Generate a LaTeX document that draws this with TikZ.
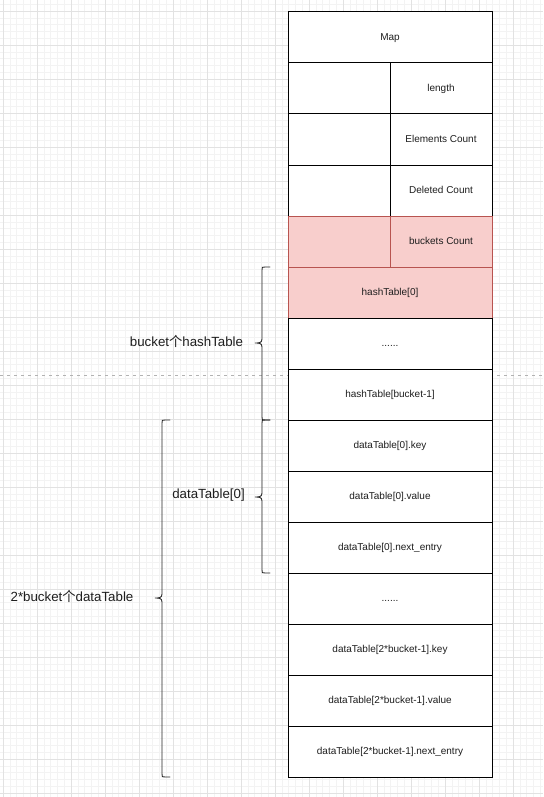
\documentclass[tikz,border=0pt]{standalone}
\usepackage{fontspec}
\setmainfont{Liberation Sans}
\newfontfamily\cjk{Noto Sans CJK SC}
\definecolor{gridminor}{RGB}{243,243,243}
\definecolor{gridmajor}{RGB}{226,226,226}
\definecolor{pinkfill}{HTML}{F8CECC}
\definecolor{pinkdraw}{HTML}{B85450}
\definecolor{txt}{RGB}{30,30,30}
\newcommand\curlyb[6]{%
  \draw[bracestyle] (#1,#4) -- ({#2+3},#4) .. controls (#2,#4) .. (#2,{#4+3})
    -- (#2,{#6-4}) .. controls (#2,#6) and ({#2-3},#6) .. (#3,#6)
    .. controls ({#2-3},#6) and (#2,#6) .. (#2,{#6+4})
    -- (#2,{#5-3}) .. controls (#2,#5) .. ({#2+3},#5) -- (#1,#5);}
\begin{document}
\begin{tikzpicture}[x=1pt,y=-1pt,
  cell/.style={draw=black, fill=white, line width=1pt, minimum width=204pt,
    minimum height=51pt, inner sep=0pt, outer sep=0pt, anchor=north west,
    font=\fontsize{10}{12}\selectfont, text=txt, text height=7.5pt, text depth=1.5pt},
  half/.style={cell, minimum width=102pt},
  pinkcell/.style={fill=pinkfill, draw=pinkdraw},
  bracestyle/.style={draw=black!85, line width=0.9pt, line cap=round},
  blabel/.style={font=\fontsize{13.3}{16}\selectfont, text=txt, inner sep=0pt}]
\fill[white] (0,0) rectangle (543,797);
\useasboundingbox (0,0) rectangle (543,797);
\begin{scope}
\clip (0,0) rectangle (543,797);
\foreach \i in {0,...,80} {\draw[gridminor, line width=1pt] ({-3.5+6.8*\i},0) -- ({-3.5+6.8*\i},797);}
\foreach \i in {0,...,118} {\draw[gridminor, line width=1pt] (0,{4.5+6.8*\i}) -- (543,{4.5+6.8*\i});}
\foreach \i in {0,...,15} {\draw[gridmajor, line width=1pt] ({3.3+34*\i},0) -- ({3.3+34*\i},797);}
\foreach \i in {0,...,23} {\draw[gridmajor, line width=1pt] (0,{11.3+34*\i}) -- (543,{11.3+34*\i});}
\end{scope}
\coordinate (dl) at (0,375.5);
\coordinate (dr) at (543,375.5);
\draw[black!30, line width=1pt, dash pattern=on 3pt off 4pt] (dl) -- (dr);
% table
\node[cell] (r0) at (288,12) {Map};
\node[half] (r1l) at (288,63) {};
\node[half] (r1r) at (390,63) {length};
\node[half] (r2l) at (288,114) {};
\node[half] (r2r) at (390,114) {Elements Count};
\node[half] (r3l) at (288,165) {};
\node[half] (r3r) at (390,165) {Deleted Count};
\node[half, pinkcell] (r4l) at (288,216) {};
\node[half, pinkcell] (r4r) at (390,216) {buckets Count};
\node[cell, pinkcell] (r5) at (288,267) {hashTable[0]};
\node[cell] (r6) at (288,318) {......};
\node[cell] (r7) at (288,369) {hashTable[bucket-1]};
\node[cell] (r8) at (288,420) {dataTable[0].key};
\node[cell] (r9) at (288,471) {dataTable[0].value};
\node[cell] (r10) at (288,522) {dataTable[0].next\_entry};
\node[cell] (r11) at (288,573) {......};
\node[cell] (r12) at (288,624) {dataTable[2*bucket-1].key};
\node[cell] (r13) at (288,675) {dataTable[2*bucket-1].value};
\node[cell] (r14) at (288,726) {dataTable[2*bucket-1].next\_entry};
% braces
\curlyb{270}{262}{255}{267}{420}{343}
\curlyb{270}{262}{255}{420}{573}{497}
\curlyb{170}{162}{155}{420}{777}{598}
\node[blabel] (l1) at (186.5,341) {bucket{\cjk 个}hashTable};
\node[blabel] (l2) at (208.5,495) {dataTable[0]};
\node[blabel] (l3) at (72,596) {2*bucket{\cjk 个}dataTable};
\end{tikzpicture}
\end{document}
